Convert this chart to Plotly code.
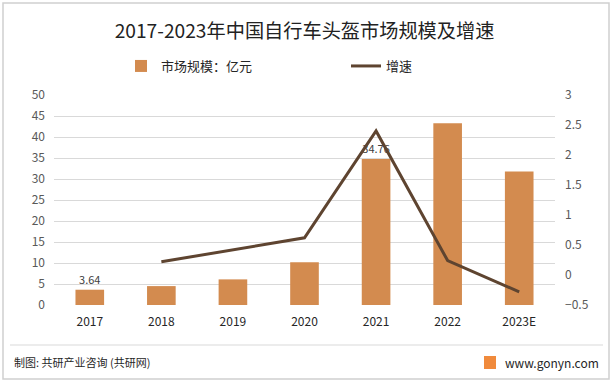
import plotly.graph_objects as go

years = ["2017", "2018", "2019", "2020", "2021", "2022", "2023E"]
market_size = [3.64, 4.5, 6.1, 10.2, 34.76, 43.3, 31.8]
growth = [None, 0.22, 0.42, 0.62, 2.4, 0.24, -0.28]
bar_labels = ["3.64", "", "", "", "34.76", "", ""]

W, H = 613, 383
L, R, T, B = 54, 58, 95, 78
pw = W - L - R
ph = H - T - B

def px(x):
    return (x - L) / pw

def py(y):
    return (H - B - y) / ph

font = "Noto Sans CJK SC, Microsoft YaHei, sans-serif"
bar_color = "#D38B4F"
line_color = "#5E4430"

fig = go.Figure()
fig.add_trace(go.Bar(
    x=years, y=market_size, name="市场规模：亿元",
    marker=dict(color=bar_color, line=dict(width=0)),
    width=0.4, text=bar_labels, textposition="outside",
    textfont=dict(size=11, color="#404040", family=font),
    cliponaxis=False,
))
fig.add_trace(go.Scatter(
    x=years, y=growth, name="增速", yaxis="y2", mode="lines",
    line=dict(color=line_color, width=3),
))

fig.update_layout(
    width=W, height=H,
    margin=dict(l=L, r=R, t=T, b=B),
    paper_bgcolor="white", plot_bgcolor="white",
    font=dict(family=font, color="#595959"),
    title=dict(text="2017-2023年中国自行车头盔市场规模及增速",
               x=0.5, xref="paper", xanchor="center", y=1 - 31 / H, yanchor="middle",
               font=dict(size=19.2, color="#222222", family=font)),
    showlegend=True,
    legend=dict(orientation="h", x=px(121), y=py(66), xanchor="left", yanchor="middle",
                xref="paper", yref="paper",
                entrywidth=180, entrywidthmode="pixels",
                font=dict(size=13, color="#262626", family=font),
                bgcolor="rgba(0,0,0,0)", itemwidth=30),
    bargap=0.6,
    xaxis=dict(showgrid=False, showline=False, ticks="", ticklabelstandoff=8,
               tickfont=dict(size=12, color="#262626", family=font)),
    yaxis=dict(range=[0, 50], dtick=5, showgrid=True, gridcolor="#D9D9D9", gridwidth=1,
               zeroline=False, showline=False, ticks="", ticklabelstandoff=8,
               tickfont=dict(size=12, color="#595959", family=font)),
    yaxis2=dict(range=[-0.5, 3], dtick=0.5, overlaying="y", side="right",
                showgrid=False, zeroline=False, showline=False, ticks="", ticklabelstandoff=9,
                tickfont=dict(size=12, color="#595959", family=font)),
)

# outer frame and footer separator
fig.add_shape(type="rect", xref="paper", yref="paper",
              x0=px(3), x1=px(609), y0=py(379), y1=py(3),
              line=dict(color="#D0D0D0", width=1.5), layer="below")
fig.add_shape(type="line", xref="paper", yref="paper",
              x0=px(10), x1=px(603), y0=py(345), y1=py(345),
              line=dict(color="#D9D9D9", width=1))
fig.add_annotation(text="制图: 共研产业咨询 (共研网)", xref="paper", yref="paper",
                   x=px(12), y=py(362), xanchor="left", yanchor="middle", showarrow=False,
                   font=dict(size=11, color="#262626", family=font))
fig.add_annotation(text="www.gonyn.com", xref="paper", yref="paper",
                   x=px(601), y=py(362), xanchor="right", yanchor="middle", showarrow=False,
                   font=dict(size=12, color="#262626", family=font))
fig.add_shape(type="rect", xref="paper", yref="paper",
              x0=px(484), x1=px(496), y0=py(369), y1=py(356),
              fillcolor="#F08A3C", line=dict(width=0))

fig.write_html("out.html", config={"displayModeBar": False},
               post_script="document.body.style.margin='0';document.body.style.overflow='hidden';")
